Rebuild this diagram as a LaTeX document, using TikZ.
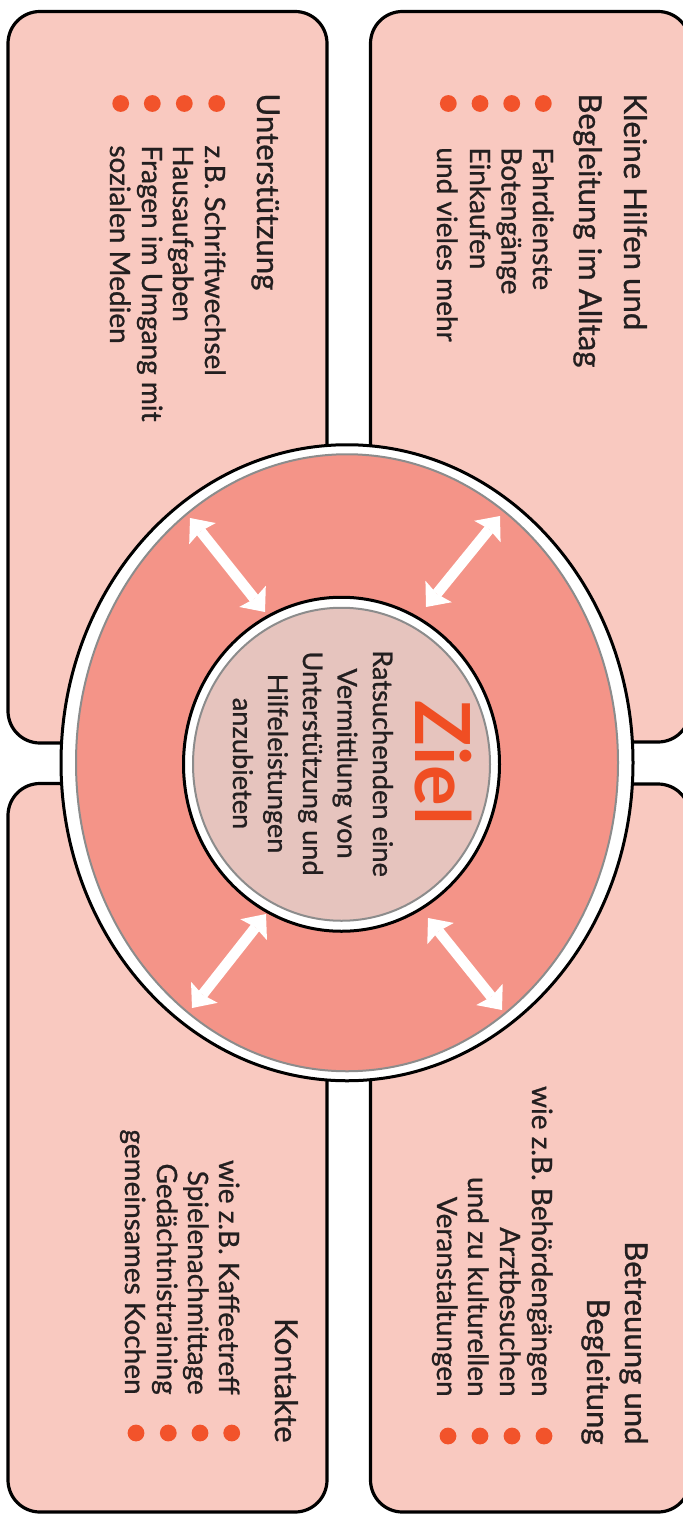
\documentclass[tikz,border=0pt]{standalone}
\usepackage{fontspec}
\setmainfont{Lato}
\newfontfamily\latomed{Lato}[FakeBold=0.9]
\usetikzlibrary{arrows.meta}
\definecolor{boxfill}{HTML}{F9C9C0}
\definecolor{ringfill}{HTML}{F49488}
\definecolor{corefill}{HTML}{E6C4BE}
\definecolor{dotred}{HTML}{F2532B}
\definecolor{zielred}{HTML}{F04E23}
\definecolor{txt}{HTML}{231F20}
\definecolor{ringgray}{HTML}{8C8C8C}
\begin{document}
\begin{tikzpicture}[x=0.5pt,y=-0.5pt,
  card/.style={draw=black, line width=1.6pt, fill=boxfill, rounded corners=16pt},
  ttl/.style={rotate=-90, inner sep=0pt, text=txt, font=\latomed\fontsize{15.6}{18}\selectfont},
  itm/.style={rotate=-90, inner sep=0pt, text=txt, font=\latomed\fontsize{14}{16}\selectfont},
  mid/.style={rotate=-90, inner sep=0pt, text=txt, font=\latomed\fontsize{13.6}{16}\selectfont, anchor=base},
  bullet/.style={fill=dotred},
  twoway/.style={draw=white, line width=5.3pt, {Stealth[length=10pt,width=17pt,inset=1.5pt,line width=0pt]}-{Stealth[length=10pt,width=17pt,inset=1.5pt,line width=0pt]}}
]
\useasboundingbox (0,0) rectangle (683,1514);
\clip (0,0) rectangle (683,1514);
% cards
\draw[card] (8,11.5) rectangle (327,743);
\draw[card] (8,783.5) rectangle (327,1512);
\draw[card] (370.5,11.5) rectangle (690,742);
\draw[card] (370.5,784) rectangle (690,1512);
% ring
\draw[black, line width=1.5pt, fill=white] (347,762.75) ellipse [x radius=143pt, y radius=159pt];
\draw[ringgray, line width=1pt, fill=ringfill] (347,762.75) ellipse [x radius=135.5pt, y radius=154.25pt];
% core
\draw[black, line width=1.5pt, fill=white] (341.5,764.25) ellipse [x radius=79pt, y radius=83.5pt];
\draw[ringgray, line width=1pt, fill=corefill] (341.5,764.25) ellipse [x radius=74.25pt, y radius=78.25pt];
% arrows
\coordinate (a1o) at (190,518); \coordinate (a1i) at (265,612);
\coordinate (a2o) at (500,516); \coordinate (a2i) at (426,607);
\coordinate (a3o) at (192,1008); \coordinate (a3i) at (266,914);
\coordinate (a4o) at (502,1010); \coordinate (a4i) at (428,918);
\draw[twoway] (a1o) -- (a1i);
\draw[twoway] (a2o) -- (a2i);
\draw[twoway] (a3o) -- (a3i);
\draw[twoway] (a4o) -- (a4i);
% top right card
\node[ttl, anchor=base west] (trt1) at (624,93) {Kleine Hilfen und};
\node[ttl, anchor=base west] (trt2) at (579,93) {Begleitung im Alltag};
\foreach \x in {543.3,511.7,480,448.3} \fill[bullet] (\x,103.5) circle [radius=4.2pt];
\node[itm, anchor=base west] (tri1) at (533,147) {Fahrdienste};
\node[itm, anchor=base west] (tri2) at (501.5,147) {Botengänge};
\node[itm, anchor=base west] (tri3) at (470,147) {Einkaufen};
\node[itm, anchor=base west] (tri4) at (437,147) {und vieles mehr};
% top left card
\node[ttl, anchor=base west] (tlt) at (257,93) {Unterstützung};
\foreach \x in {216.7,184.3,152.3,120.7} \fill[bullet] (\x,103.5) circle [radius=4.2pt];
\node[itm, anchor=base west] (tli1) at (205,145) {z.B. Schriftwechsel};
\node[itm, anchor=base west] (tli2) at (173,145) {Hausaufgaben};
\node[itm, anchor=base west] (tli3) at (142,145) {Fragen im Umgang mit};
\node[itm, anchor=base west] (tli4) at (110,145) {sozialen Medien};
% bottom right card
\node[ttl, anchor=base east] (brt1) at (625,1445) {Betreuung und};
\node[ttl, anchor=base east] (brt2) at (587,1445) {Begleitung};
\foreach \x in {544,512,480,448} \fill[bullet] (\x,1436) circle [radius=4.2pt];
\node[itm, anchor=base east] (bri1) at (532,1397) {wie z.B. Behördengängen};
\node[itm, anchor=base east] (bri2) at (500,1397) {Arztbesuchen};
\node[itm, anchor=base east] (bri3) at (468,1397) {und zu kulturellen};
\node[itm, anchor=base east] (bri4) at (437,1397) {Veranstaltungen};
% bottom left card
\node[ttl, anchor=base east] (blt) at (275,1443) {Kontakte};
\foreach \x in {231.7,200,168.3,136} \fill[bullet] (\x,1433) circle [radius=4.2pt];
\node[itm, anchor=base east] (bli1) at (219,1395) {wie z.B. Kaffeetreff};
\node[itm, anchor=base east] (bli2) at (188,1395) {Spielenachmittage};
\node[itm, anchor=base east] (bli3) at (157,1395) {Gedächtnistraining};
\node[itm, anchor=base east] (bli4) at (125,1395) {gemeinsames Kochen};
% centre
\node[rotate=-90, inner sep=0pt, anchor=base, text=zielred, font=\fontsize{38}{40}\selectfont\bfseries] (ziel) at (415,762.5) {Ziel};
\node[mid] (c1) at (373,763.5) {Ratsuchenden eine};
\node[mid] (c2) at (337.5,763.5) {Vermittlung von};
\node[mid] (c3) at (303,763.5) {Unterstützung und};
\node[mid] (c4) at (268,763.5) {Hilfeleistungen};
\node[mid] (c5) at (233,763.5) {anzubieten};
\end{tikzpicture}
\end{document}
